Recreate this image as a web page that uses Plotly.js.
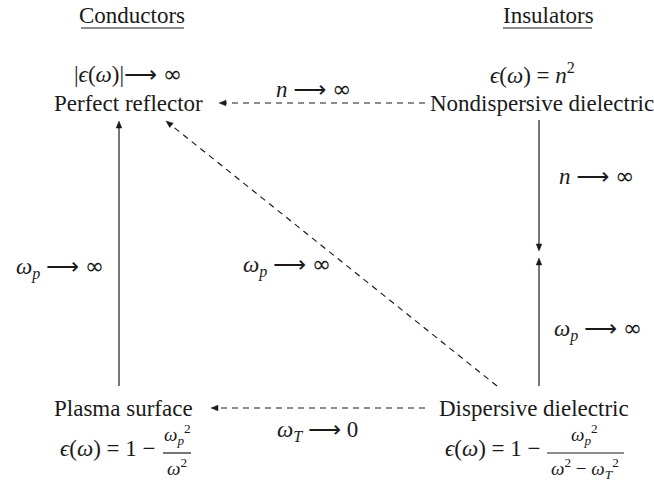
<!DOCTYPE html>
<html><head><meta charset="utf-8">
<script src="https://cdn.plot.ly/plotly-3.0.1.min.js"></script>
</head><body style="margin:0;background:#fff">
<div id="c" style="width:654px;height:482px"></div>
<script>
// Diagram content
const TO = "<span style='font-family:DejaVu Sans'>⟶</span>";
const INF = "<span style='font-family:DejaVu Sans'>∞</span>";
const groups = ["Conductors", "Insulators"];
const nodes = ["Perfect reflector", "Nondispersive dielectric", "Plasma surface", "Dispersive dielectric"];
const nodeFormulas = ["|<i>ϵ</i>(<i>ω</i>)|" + TO + " " + INF, "<i>ϵ</i>(<i>ω</i>) = <i>n</i><sup>2</sup>"];
const edgeLabels = ["<i>n</i> " + TO + " " + INF, "<i>ω<sub>p</sub></i> " + TO + " " + INF,
  "<i>ω<sub>p</sub></i> " + TO + " " + INF, "<i>n</i> " + TO + " " + INF,
  "<i>ω<sub>p</sub></i> " + TO + " " + INF, "<i>ω<sub>T</sub></i> " + TO + " 0"];

const SERIF = "Liberation Serif";
const FS = 23;
const annList = [], shapeList = [];
function addText(x, y, t, xa, size) {
  annList.push({x: x, y: y, xref: 'x', yref: 'y', text: t, showarrow: false,
    xanchor: xa || 'center', yanchor: 'middle', font: {family: SERIF, size: size || FS}});
}
function addLine(x0, y0, x1, y1, dash) {
  shapeList.push({type: 'line', xref: 'x', yref: 'y', x0: x0, y0: y0, x1: x1, y1: y1,
    line: {color: '#1a1a1a', width: 1.2, dash: dash ? '6px,5px' : 'solid'}});
}
function addHead(x, y, dx, dy) {
  const L = 7, W = 2.8, bx = x - dx * L, by = y - dy * L, nx = -dy, ny = dx;
  shapeList.push({type: 'path', xref: 'x', yref: 'y',
    path: 'M' + x + ',' + y + ' L' + (bx + nx * W) + ',' + (by + ny * W) +
          ' L' + (bx - nx * W) + ',' + (by - ny * W) + ' Z',
    fillcolor: '#1a1a1a', line: {color: '#1a1a1a', width: 0.5}});
}
function addArrow(x0, y0, x1, y1, dash) {
  const L = Math.hypot(x1 - x0, y1 - y0), dx = (x1 - x0) / L, dy = (y1 - y0) / L;
  addLine(x0, y0, x1 - dx * 5, y1 - dy * 5, dash);
  addHead(x1, y1, dx, dy);
}

// group titles (underlined)
addText(132, 15, groups[0]); addLine(81, 28, 184, 28, false);
addText(548, 15, groups[1]); addLine(503, 28, 592, 28, false);

// nodes
addText(128, 74, nodeFormulas[0]);
addText(128, 103, nodes[0]);
addText(532, 73, nodeFormulas[1]);
addText(542, 103, nodes[1]);
addText(123, 408, nodes[2]);
addText(534, 408, nodes[3]);

// plasma formula
addText(158, 448, "<i>ϵ</i>(<i>ω</i>) = 1 −", 'right');
addText(177, 434, "<i>ω</i><sub><i>p</i></sub><sup>2</sup>", 'center', 19);
addLine(163, 453, 191, 453, false);
addText(177, 467, "<i>ω</i><sup>2</sup>", 'center', 19);

// dispersive formula
addText(543, 448, "<i>ϵ</i>(<i>ω</i>) = 1 −", 'right');
addText(584, 434, "<i>ω</i><sub><i>p</i></sub><sup>2</sup>", 'center', 19);
addLine(547, 453, 624, 453, false);
addText(585, 468, "<i>ω</i><sup>2</sup> − <i>ω</i><sub><i>T</i></sub><sup>2</sup>", 'center', 19);

// edges
addArrow(425, 103, 219, 103, true);   addText(313, 89, edgeLabels[0]);
addArrow(119, 386, 119, 121, false);  addText(60, 268, edgeLabels[1]);
addArrow(497, 386, 166, 121, true);   addText(287, 266, edgeLabels[2]);
addArrow(539, 120, 539, 251, false);  addText(596, 176, edgeLabels[3]);
addArrow(539, 386, 539, 258, false);  addText(598, 330, edgeLabels[4]);
addArrow(425, 408, 211, 408, true);   addText(317, 430, edgeLabels[5]);

const layout = {
  width: 654, height: 482, margin: {l: 0, r: 0, t: 0, b: 0},
  font: {family: SERIF, size: FS, color: '#1a1a1a'},
  xaxis: {range: [0, 654], visible: false},
  yaxis: {range: [482, 0], visible: false},
  showlegend: false, annotations: annList, shapes: shapeList
};
Plotly.newPlot('c', [], layout, {displayModeBar: false}).then(function (gd) {
  gd.querySelectorAll('.annotation-text').forEach(function (el) {
    el.style.setProperty('font-family', "'Liberation Serif', serif", 'important');
  });
});
</script></body></html>
